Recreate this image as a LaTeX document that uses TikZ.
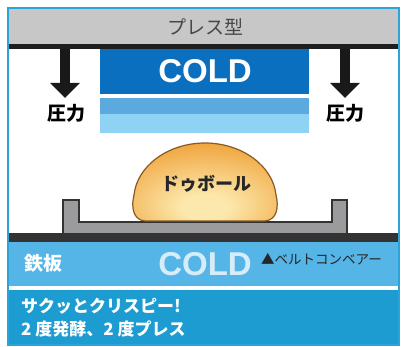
\documentclass[tikz,border=0pt]{standalone}
\usepackage{fontspec}
\newfontfamily\jpfont{Noto Sans CJK JP}
\newfontfamily\coldfont{Liberation Sans}
\usetikzlibrary{arrows.meta}
\definecolor{frameblue}{HTML}{2AA5DA}
\definecolor{bandblue}{HTML}{1C9CD1}
\definecolor{beltblue}{HTML}{55B5E6}
\definecolor{presgray}{HTML}{C7C7C7}
\definecolor{coldblue}{HTML}{0B6FBF}
\definecolor{midblue}{HTML}{5CA9DF}
\definecolor{paleblue}{HTML}{8FD3F4}
\definecolor{coldpale}{HTML}{D6ECF8}
\definecolor{traygray}{HTML}{9B9B9D}
\definecolor{doughorange}{HTML}{EFA036}
\definecolor{doughlight}{HTML}{FCE8AC}
\definecolor{doughline}{HTML}{8A5A22}
\pgfdeclareradialshading{doughshade}{\pgfpoint{0bp}{-18bp}}{color(0bp)=(doughlight); color(8bp)=(doughlight); color(38bp)=(doughorange); color(90bp)=(doughorange)}
\tikzset{
  jplabel/.style={inner sep=0pt, font=\jpfont\bfseries\fontsize{19}{22}\selectfont},
  coldlabel/.style={inner sep=0pt, font=\coldfont\bfseries\fontsize{33}{36}\selectfont},
  pressarrow/.style={line width=10pt, color=black!90, -{Triangle[length=15pt,width=29pt]}}
}

\begin{document}
\begin{tikzpicture}[x=1pt,y=-1pt]
		%%%%% START %%%%%
		\useasboundingbox (0,0) rectangle (402,347);
		\fill[white] (0,0) rectangle (402,347);
		
		% press mould
		\fill[presgray] (9,9) rectangle (398,44);
		\fill[black!88] (9,44) rectangle (398,49);
		\node[jplabel, font=\jpfont\fontsize{19}{22}\selectfont, text=black!72] (mould) at (205,27) {プレス型};
		
		\fill[coldblue] (100,49) rectangle (309,94);
		\fill[midblue] (100,98) rectangle (309,114);
		\fill[paleblue] (100,114) rectangle (309,133);
		\node[coldlabel, text=white] (coldtop) at (205,71) {COLD};
		
		% pressure
		\coordinate (pl) at (65,49);
		\coordinate (pltip) at (65,98);
		\coordinate (pr) at (345,49);
		\coordinate (prtip) at (345,98);
		\draw[pressarrow] (pl) -- (pltip);
		\draw[pressarrow] (pr) -- (prtip);
		\node[jplabel] (forcel) at (66,113) {圧力};
		\node[jplabel] (forcer) at (345,113) {圧力};
		
		% tray and dough
		\draw[fill=traygray, draw=black!80, line width=1.6pt] (63,200) -- (79,200) -- (79,222) -- (332,222) -- (332,200) -- (347,200) -- (347,234) -- (63,234) -- cycle;
		\draw[shading=doughshade, draw=doughline, line width=1.2pt] (145,221) .. controls (133,220) and (131,207) .. (134,195) .. controls (137,166) and (168,143) .. (205,143) .. controls (242,143) and (273,166) .. (276,195) .. controls (279,207) and (277,220) .. (265,221) -- cycle;
		\node[jplabel, font=\jpfont\bfseries\fontsize{18}{22}\selectfont, text=black!85] (dough) at (206,184) {ドゥボール};
		
		% belt
		\fill[black!80] (9,233) rectangle (398,242);
		\fill[beltblue] (9,242) rectangle (398,286);
		\fill[bandblue] (9,290) rectangle (398,345);
		\node[jplabel, text=white] (plate) at (43,263) {鉄板};
		\node[coldlabel, text=coldpale] (coldbelt) at (205,264) {COLD};
		\node[inner sep=0pt, anchor=west, font=\jpfont\fontsize{13.5}{16}\selectfont, text=black!85] (belt) at (261,259) {▲ベルトコンベアー};
		
		\node[inner sep=0pt, anchor=west, text=white, font=\jpfont\bfseries\fontsize{17}{20}\selectfont] (crisp) at (21,306) {サクッとクリスピー!};
		\node[inner sep=0pt, anchor=west, text=white, font=\jpfont\bfseries\fontsize{17}{20}\selectfont] (twice) at (21,329) {2 度発酵、2 度プレス};
		
		\draw[frameblue, line width=2.5pt] (8,8) rectangle (399,345);
		%%%%% END %%%%%
	\end{tikzpicture}
\end{document}
